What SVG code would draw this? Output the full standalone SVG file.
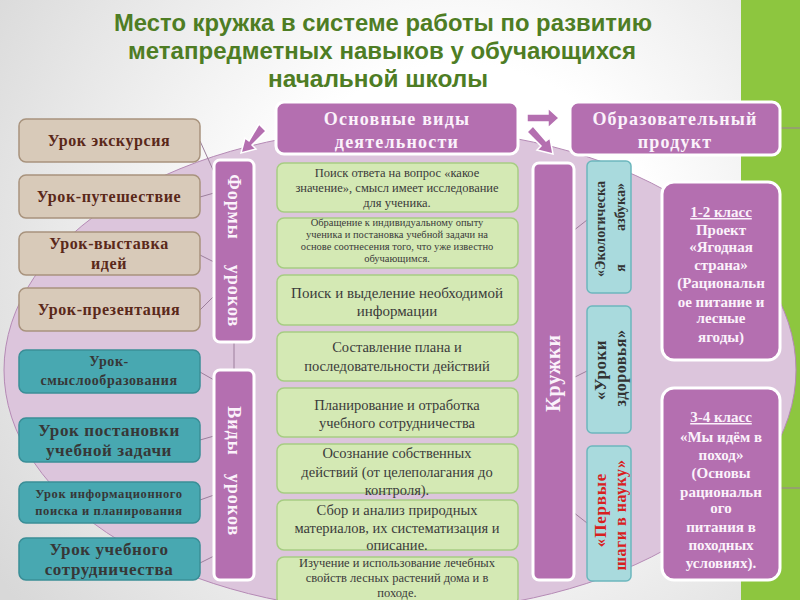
<svg xmlns="http://www.w3.org/2000/svg" width="800" height="600" viewBox="0 0 800 600">
<defs>
<radialGradient id="bg" cx="460" cy="260" r="560" gradientUnits="userSpaceOnUse">
<stop offset="0.35" stop-color="#ffffff"/>
<stop offset="1" stop-color="#d8d8d8"/>
</radialGradient>
<style>
.ttl{font-family:"Liberation Sans",Arial,sans-serif;font-weight:bold;font-size:24px;fill:#4e7d24;text-anchor:middle}
.pur{fill:#b46fb0;stroke:#ffffff;stroke-width:3}
.wt{font-family:"Liberation Serif","Times New Roman",serif;font-weight:bold;fill:#fbf2fb;text-anchor:middle}
.tan{fill:#d8cab9;stroke:#a8937d;stroke-width:1.5}
.tant{font-family:"Liberation Serif","Times New Roman",serif;font-weight:bold;font-size:16px;fill:#5a2819;text-anchor:middle;letter-spacing:0.6px}
.teal{fill:#48a8b1;stroke:#3a8e97;stroke-width:1.5}
.tealt{font-family:"Liberation Serif","Times New Roman",serif;font-weight:bold;fill:#373737;text-anchor:middle;letter-spacing:0.6px}
.grn{fill:#d4e9b4;stroke:#a6cd82;stroke-width:1.5}
.grnt{font-family:"Liberation Serif","Times New Roman",serif;fill:#3b3b3b;text-anchor:middle}
.pale{fill:#a9dadd;stroke:#6cb7bd;stroke-width:1.5}
.palet{font-family:"Liberation Serif","Times New Roman",serif;font-weight:bold;fill:#333333;text-anchor:middle}
.con{stroke:#9c7f9c;stroke-width:1;fill:none}
.arr{fill:#b46fb0;stroke:#ffffff;stroke-width:1.5}
</style>
</defs>
<rect x="0" y="0" width="800" height="600" fill="url(#bg)"/>
<rect x="741" y="0" width="59" height="600" fill="#8dc63f"/>
<ellipse cx="400" cy="370" rx="396" ry="242" fill="#dcc5dc" stroke="#b58ab5" stroke-width="1"/>

<g id="title">
<text class="ttl" x="383" y="31" textLength="538" lengthAdjust="spacingAndGlyphs">Место кружка в системе работы по развитию</text>
<text class="ttl" x="382" y="59" textLength="508" lengthAdjust="spacingAndGlyphs">метапредметных навыков у обучающихся</text>
<text class="ttl" x="378" y="87" textLength="220" lengthAdjust="spacingAndGlyphs">начальной школы</text>
</g>

<g id="connectors">
<line class="con" x1="200" y1="141" x2="214" y2="172"/>
<line class="con" x1="200" y1="197" x2="214" y2="193"/>
<line class="con" x1="200" y1="255" x2="214" y2="262"/>
<line class="con" x1="200" y1="310" x2="214" y2="296"/>
<line class="con" x1="200" y1="372" x2="214" y2="380"/>
<line class="con" x1="200" y1="440" x2="214" y2="436"/>
<line class="con" x1="200" y1="500" x2="214" y2="495"/>
<line class="con" x1="200" y1="563" x2="214" y2="556"/>
<line class="con" x1="234" y1="342" x2="234" y2="370"/>
<line class="con" x1="573" y1="231" x2="587" y2="220"/>
<line class="con" x1="573" y1="378" x2="587" y2="371"/>
<line class="con" x1="573" y1="512" x2="587" y2="523"/>
<line class="con" x1="781" y1="128" x2="800" y2="128"/>
<line class="con" x1="781" y1="488" x2="800" y2="488"/>
<polygon class="arr" points="259,124 266,131 252,145 256,149 241,153 245,138 249,141"/>
<polygon class="arr" points="527,114 548,114 548,108 559,118 548,128 548,122 527,122"/>
<polygon class="arr" points="533,126 527,132 541,146 537,150 553,154 550,138 546,141"/>
</g>

<g id="hdr-activities">
<rect class="pur" x="276" y="102" width="242" height="52" rx="8"/>
<text class="wt" x="397" y="125" font-size="18" letter-spacing="1.2">Основные виды</text>
<text class="wt" x="397" y="148" font-size="18" letter-spacing="1.2">деятельности</text>
</g>
<g id="hdr-product">
<rect class="pur" x="570" y="102" width="210" height="53" rx="8"/>
<text class="wt" x="675" y="125" font-size="18" letter-spacing="1.2">Образовательный</text>
<text class="wt" x="675" y="148" font-size="18" letter-spacing="1.2">продукт</text>
</g>

<g id="bar-forms">
<rect class="pur" x="214" y="160" width="40" height="182" rx="6"/>
<text class="wt" font-size="18" letter-spacing="1" dy="0.35em" transform="translate(234,207) rotate(90)">Формы</text>
<text class="wt" font-size="18" letter-spacing="1" dy="0.35em" transform="translate(234,296) rotate(90)">уроков</text>
</g>
<g id="bar-types">
<rect class="pur" x="214" y="370" width="40" height="210" rx="6"/>
<text class="wt" font-size="18" letter-spacing="1" dy="0.35em" transform="translate(234,431) rotate(90)">Виды</text>
<text class="wt" font-size="18" letter-spacing="1" dy="0.35em" transform="translate(234,505) rotate(90)">уроков</text>
</g>

<g id="f1"><rect class="tan" x="19" y="119" width="181" height="43" rx="7"/><text class="tant" x="109" y="146">Урок экскурсия</text></g>
<g id="f2"><rect class="tan" x="19" y="175" width="181" height="43" rx="7"/><text class="tant" x="109" y="202">Урок-путешествие</text></g>
<g id="f3"><rect class="tan" x="19" y="232" width="181" height="43" rx="7"/><text class="tant" x="109" y="249">Урок-выставка</text><text class="tant" x="109" y="269">идей</text></g>
<g id="f4"><rect class="tan" x="19" y="288" width="181" height="43" rx="7"/><text class="tant" x="109" y="315">Урок-презентация</text></g>

<g id="t1"><rect class="teal" x="19" y="350" width="181" height="43" rx="7"/><text class="tealt" x="109" y="366" font-size="14">Урок-</text><text class="tealt" x="109" y="385" font-size="14">смыслообразования</text></g>
<g id="t2"><rect class="teal" x="19" y="418" width="181" height="44" rx="7"/><text class="tealt" x="109" y="436" font-size="17">Урок постановки</text><text class="tealt" x="109" y="456" font-size="17">учебной задачи</text></g>
<g id="t3"><rect class="teal" x="19" y="482" width="181" height="41" rx="7"/><text class="tealt" x="109" y="498" font-size="12.5">Урок информационного</text><text class="tealt" x="109" y="515" font-size="12.5">поиска и планирования</text></g>
<g id="t4"><rect class="teal" x="19" y="538" width="181" height="42" rx="7"/><text class="tealt" x="109" y="555" font-size="17">Урок учебного</text><text class="tealt" x="109" y="575" font-size="17">сотрудничества</text></g>

<g id="a1"><rect class="grn" x="277" y="163" width="241" height="49" rx="7"/>
<text class="grnt" font-size="12.5" x="397" y="177">Поиск ответа на вопрос «какое</text>
<text class="grnt" font-size="12.5" x="397" y="192">значение», смысл имеет исследование</text>
<text class="grnt" font-size="12.5" x="397" y="207">для ученика.</text></g>
<g id="a2"><rect class="grn" x="277" y="218" width="241" height="50" rx="7"/>
<text class="grnt" font-size="10.5" x="397" y="226">Обращение к индивидуальному опыту</text>
<text class="grnt" font-size="10.5" x="397" y="238">ученика и постановка учебной задачи на</text>
<text class="grnt" font-size="10.5" x="397" y="250">основе соотнесения того, что уже известно</text>
<text class="grnt" font-size="10.5" x="397" y="262">обучающимся.</text></g>
<g id="a3"><rect class="grn" x="277" y="275" width="241" height="50" rx="7"/>
<text class="grnt" font-size="15" x="397" y="298">Поиск и выделение необходимой</text>
<text class="grnt" font-size="15" x="397" y="316">информации</text></g>
<g id="a4"><rect class="grn" x="277" y="332" width="241" height="49" rx="7"/>
<text class="grnt" font-size="14.5" x="397" y="352">Составление плана и</text>
<text class="grnt" font-size="14.5" x="397" y="371">последовательности действий</text></g>
<g id="a5"><rect class="grn" x="277" y="388" width="241" height="49" rx="7"/>
<text class="grnt" font-size="14.5" x="397" y="410">Планирование и отработка</text>
<text class="grnt" font-size="14.5" x="397" y="428">учебного сотрудничества</text></g>
<g id="a6"><rect class="grn" x="277" y="444" width="241" height="49" rx="7"/>
<text class="grnt" font-size="14.5" x="397" y="458">Осознание собственных</text>
<text class="grnt" font-size="14.5" x="397" y="477">действий (от целеполагания до</text>
<text class="grnt" font-size="14.5" x="397" y="495">контроля).</text></g>
<g id="a7"><rect class="grn" x="277" y="500" width="241" height="50" rx="7"/>
<text class="grnt" font-size="14.5" x="397" y="515">Сбор и анализ природных</text>
<text class="grnt" font-size="14.5" x="397" y="533">материалов, их систематизация и</text>
<text class="grnt" font-size="14.5" x="397" y="550">описание.</text></g>
<g id="a8"><rect class="grn" x="277" y="557" width="241" height="48" rx="7"/>
<text class="grnt" font-size="12.5" x="397" y="567">Изучение и использование лечебных</text>
<text class="grnt" font-size="12.5" x="397" y="582">свойств лесных растений дома и в</text>
<text class="grnt" font-size="12.5" x="397" y="597">походе.</text></g>

<g id="bar-clubs">
<rect class="pur" x="533" y="163" width="41" height="417" rx="6"/>
<text class="wt" font-size="20" letter-spacing="0.8" dy="0.35em" transform="translate(553,373) rotate(-90)">Кружки</text>
</g>

<g id="c1"><rect class="pale" x="587" y="161" width="44" height="132" rx="5"/>
<text class="palet" font-size="14" dy="0.35em" transform="translate(600,229) rotate(-90)">«Экологическа</text>
<text class="palet" font-size="14" dy="0.35em" transform="translate(620,268) rotate(-90)">я</text>
<text class="palet" font-size="14" dy="0.35em" transform="translate(620,207) rotate(-90)">азбука»</text></g>
<g id="c2"><rect class="pale" x="587" y="306" width="44" height="127" rx="5"/>
<text class="palet" font-size="17" letter-spacing="0.5" dy="0.35em" transform="translate(600,370) rotate(-90)">«Уроки</text>
<text class="palet" font-size="16" letter-spacing="0.5" dy="0.35em" transform="translate(620,368) rotate(-90)">здоровья»</text></g>
<g id="c3"><rect class="pale" x="587" y="446" width="44" height="135" rx="5"/>
<text class="palet" font-size="17" letter-spacing="0.8" fill="#d8201e" style="fill:#d8201e" dy="0.35em" transform="translate(600,510) rotate(-90)">«Первые</text>
<text class="palet" font-size="16" letter-spacing="0.5" style="fill:#d8201e" dy="0.35em" transform="translate(620,515) rotate(-90)">шаги в науку»</text></g>

<g id="p12"><rect class="pur" x="662" y="182" width="118" height="178" rx="12" stroke-width="4"/>
<text class="wt" font-size="15" x="721" y="217" text-decoration="underline">1-2 класс</text>
<text class="wt" font-size="15" x="721" y="235">Проект</text>
<text class="wt" font-size="15" x="721" y="252">«Ягодная</text>
<text class="wt" font-size="15" x="721" y="270">страна»</text>
<text class="wt" font-size="15" x="721" y="288">(Рациональн</text>
<text class="wt" font-size="15" x="721" y="307">ое питание и</text>
<text class="wt" font-size="15" x="721" y="323">лесные</text>
<text class="wt" font-size="15" x="721" y="342">ягоды)</text></g>
<g id="p34"><rect class="pur" x="662" y="388" width="118" height="192" rx="12" stroke-width="4"/>
<text class="wt" font-size="15" x="721" y="422" text-decoration="underline">3-4 класс</text>
<text class="wt" font-size="15" x="721" y="442">«Мы идём в</text>
<text class="wt" font-size="15" x="721" y="460">поход»</text>
<text class="wt" font-size="15" x="721" y="478">(Основы</text>
<text class="wt" font-size="15" x="721" y="497">рациональн</text>
<text class="wt" font-size="15" x="721" y="513">ого</text>
<text class="wt" font-size="15" x="721" y="532">питания в</text>
<text class="wt" font-size="15" x="721" y="550">походных</text>
<text class="wt" font-size="15" x="721" y="568">условиях).</text></g>
</svg>
